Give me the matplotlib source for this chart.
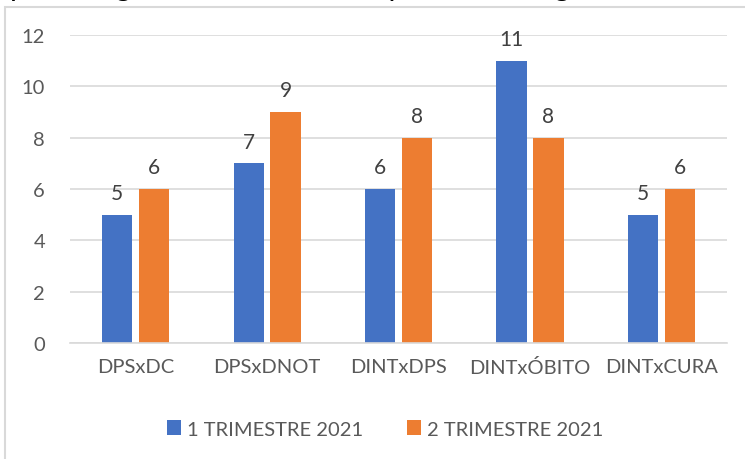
import matplotlib
matplotlib.use("Agg")
import matplotlib.pyplot as plt
import numpy as np
from matplotlib.patches import Rectangle

categories = ["DPSxDC", "DPSxDNOT", "DINTxDPS", "DINTxÓBITO", "DINTxCURA"]
trim1 = [5, 7, 6, 11, 5]
trim2 = [6, 9, 8, 8, 6]
series_names = ["1 TRIMESTRE 2021", "2 TRIMESTRE 2021"]
y_ticks = [0, 2, 4, 6, 8, 10, 12]

plt.rcParams["font.family"] = ["Lato", "DejaVu Sans"]

fig = plt.figure(figsize=(7.45, 4.6), dpi=100)
ax = fig.add_axes([0.094, 0.252, 0.882, 0.67])

# outer chart frame
fig.patches.append(Rectangle((5 / 745, -0.1), 1.2, 1.1 - 8 / 460,
                             transform=fig.transFigure, fill=False,
                             edgecolor="#D9D9D9", linewidth=1.5))

# cut-off title at the top
fig.text(0.5, 1 + 4 / 460, "Tipo de registro no SIM-MS do primeiro e segundo trimestre",
         ha="center", va="baseline", fontsize=21, color="#000000")

x = np.arange(len(categories))
w = 0.23
off = 0.14
b1 = ax.bar(x - off, trim1, w, color="#4472C4", label=series_names[0])
b2 = ax.bar(x + off, trim2, w, color="#ED7D31", label=series_names[1])

for bars in (b1, b2):
    for r in bars:
        ax.text(r.get_x() + r.get_width() / 2, r.get_height() + 0.45,
                str(int(r.get_height())), ha="center", va="bottom",
                fontsize=15, color="#404040")

ax.set_xlim(-0.5, len(categories) - 0.5)
ax.set_ylim(0, 12)
ax.set_yticks(y_ticks)
ax.set_xticks(x)
ax.set_xticklabels(categories)
ax.tick_params(axis="both", length=0, labelsize=14.5, labelcolor="#595959")
ax.tick_params(axis="x", pad=11)
ax.tick_params(axis="y", pad=18)
ax.grid(axis="y", color="#D9D9D9", linewidth=1.2)
ax.set_axisbelow(True)
for s in ["top", "right", "left"]:
    ax.spines[s].set_visible(False)
ax.spines["bottom"].set_color("#D9D9D9")
ax.spines["bottom"].set_linewidth(1.2)

fig.legend(loc="center", bbox_to_anchor=(0.517, 1 - 430 / 460), ncol=2,
           frameon=False, fontsize=14.5, labelcolor="#595959",
           handlelength=0.7, handleheight=0.7, handletextpad=0.3,
           columnspacing=2.2)

fig.savefig("out.png", dpi=100)
